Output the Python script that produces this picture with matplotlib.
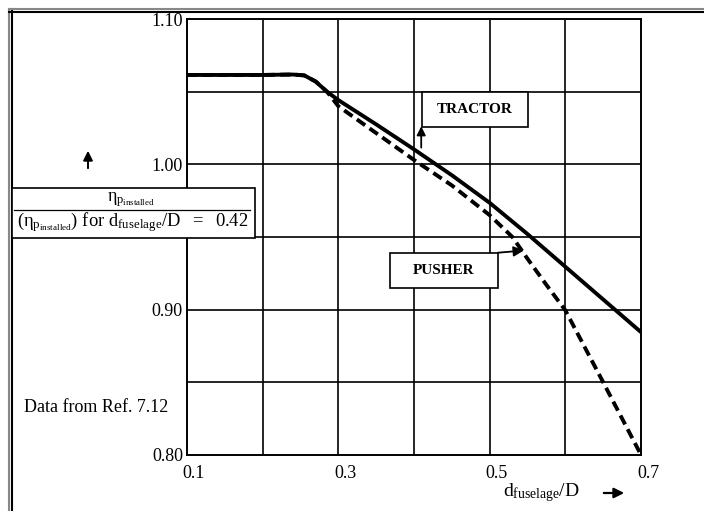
import matplotlib
matplotlib.use("Agg")
import matplotlib.pyplot as plt
from matplotlib.patches import Rectangle, FancyArrowPatch
from matplotlib.lines import Line2D
from matplotlib.transforms import offset_copy

plt.rcParams["font.family"] = ["Liberation Serif", "DejaVu Serif"]
plt.rcParams["mathtext.fontset"] = "custom"
plt.rcParams["mathtext.rm"] = "Liberation Serif"
plt.rcParams["mathtext.it"] = "Liberation Serif"

# data
d_ratio_tractor = [0.10, 0.20, 0.24, 0.255, 0.27, 0.285, 0.30, 0.35, 0.40, 0.45, 0.50, 0.55, 0.60, 0.65, 0.70]
eta_tractor = [1.0615, 1.0615, 1.0618, 1.0612, 1.057, 1.050, 1.0442, 1.0275, 1.0103, 0.9925, 0.9735, 0.952, 0.9295, 0.907, 0.8845]

d_ratio_pusher = [0.10, 0.20, 0.24, 0.255, 0.27, 0.285, 0.30, 0.35, 0.40, 0.45, 0.50, 0.53, 0.55, 0.575, 0.60, 0.65, 0.70]
eta_pusher = [1.0615, 1.0615, 1.0618, 1.0612, 1.057, 1.050, 1.0400, 1.0215, 1.003, 0.9855, 0.965, 0.950, 0.935, 0.917, 0.8995, 0.850, 0.800]

x_ticks = [0.1, 0.3, 0.5, 0.7]
x_tick_labels = ["0.1", "0.3", "0.5", "0.7"]
y_ticks = [0.80, 0.90, 1.00, 1.10]
y_tick_labels = ["0.80", "0.90", "1.00", "1.10"]
x_grid = [0.2, 0.3, 0.4, 0.5, 0.6]
y_grid = [0.85, 0.90, 0.95, 1.00, 1.05]

fig = plt.figure(figsize=(7.04, 5.11), dpi=100)
ax = fig.add_axes([0.2656, 0.1096, 0.645, 0.8532])
ax.set_xlim(0.1, 0.7)
ax.set_ylim(0.80, 1.10)

# grid
for gx in x_grid:
    ax.axvline(gx, color="black", lw=1.2, zorder=1)
for gy in y_grid:
    ax.axhline(gy, color="black", lw=1.2, zorder=1)
for s in ax.spines.values():
    s.set_linewidth(1.4)

# curves
ax.plot(d_ratio_tractor, eta_tractor, color="black", lw=2.8, solid_capstyle="butt",
        solid_joinstyle="round", zorder=3)
ax.plot(d_ratio_pusher, eta_pusher, color="black", lw=2.8, linestyle=(0, (2.6, 1.4)),
        dash_joinstyle="round", zorder=3)

# ticks (labels drawn as text so they can sit a little off the grid lines, as in the scan)
ax.set_xticks(x_ticks)
ax.set_yticks(y_ticks)
ax.set_xticklabels([])
ax.set_yticklabels([])
ax.tick_params(length=0)
xtrans = offset_copy(ax.get_xaxis_transform(), fig=fig, x=7, y=-10, units="dots")
for xv, lab in zip(x_ticks, x_tick_labels):
    ax.text(xv, 0, lab, transform=xtrans, fontsize=13, ha="center", va="top", clip_on=False)
ytrans = offset_copy(ax.get_yaxis_transform(), fig=fig, x=-4, y=-2, units="dots")
for yv, lab in zip(y_ticks, y_tick_labels):
    ax.text(0, yv, lab, transform=ytrans, fontsize=13, ha="right", va="center", clip_on=False)

# labels for curves
ax.add_patch(Rectangle((0.4106, 1.0259), 0.14, 0.0241, facecolor="white",
                       edgecolor="black", lw=1.2, zorder=4))
ax.text(0.4806, 1.0379, "TRACTOR", fontsize=11, fontweight="bold",
        ha="center", va="center", zorder=5)
ax.annotate("", xy=(0.4095, 1.0262), xytext=(0.4095, 1.0115),
            arrowprops=dict(arrowstyle="-|>", color="black", lw=1.3,
                            mutation_scale=13, shrinkA=0, shrinkB=0), zorder=5)

ax.add_patch(Rectangle((0.368, 0.9149), 0.1425, 0.0241, facecolor="white",
                       edgecolor="black", lw=1.2, zorder=4))
ax.text(0.4393, 0.9269, "PUSHER", fontsize=11, fontweight="bold",
        ha="center", va="center", zorder=5)
ax.annotate("", xy=(0.545, 0.9407), xytext=(0.511, 0.9392),
            arrowprops=dict(arrowstyle="-|>", color="black", lw=1.3,
                            mutation_scale=15, shrinkA=0, shrinkB=0), zorder=5)

# y-axis label box
fig.patches.append(Rectangle((12 / 704, 1 - 238 / 511), 243 / 704, 50 / 511,
                             transform=fig.transFigure, facecolor="white",
                             edgecolor="black", lw=1.2, zorder=6))
fig.lines.append(Line2D([14 / 704, 250 / 704], [1 - 210 / 511, 1 - 210 / 511],
                        transform=fig.transFigure, color="black", lw=0.9, zorder=7))
fig.text(131 / 704, 1 - 200 / 511, r"$\eta_{\mathrm{p}_{\mathrm{installed}}}$",
         fontsize=13, ha="center", va="center", zorder=8)
fig.text(133 / 704, 1 - 222 / 511,
         r"$(\eta_{\mathrm{p}_{\mathrm{installed}}})\ \mathrm{for}\ \mathrm{d}_{\mathrm{fuselage}}\mathrm{/D}\ \ =\ \ 0.42$",
         fontsize=13.3, ha="center", va="center", zorder=8)
fig.patches.append(FancyArrowPatch(
    (88 / 704, 1 - 171 / 511), (88 / 704, 1 - 148 / 511),
    transform=fig.transFigure, arrowstyle="-|>", mutation_scale=14,
    color="black", lw=1.4))

fig.text(24 / 704, 1 - 407 / 511, "Data from Ref. 7.12", fontsize=13,
         ha="left", va="center")

# x-axis label
fig.text(541 / 704, 1 - 493 / 511, r"$\mathrm{d}_{\mathrm{fuselage}}\mathrm{/D}$",
         fontsize=14, ha="center", va="center")
fig.patches.append(FancyArrowPatch(
    (601 / 704, 1 - 493 / 511), (627 / 704, 1 - 493 / 511),
    transform=fig.transFigure, arrowstyle="-|>", mutation_scale=15,
    color="black", lw=1.6))

# double frame of the scanned page
for xf, c in [(9 / 704, "#888888"), (12 / 704, "black")]:
    fig.lines.append(Line2D([xf, xf], [0, 1 - 9 / 511], transform=fig.transFigure,
                            color=c, lw=1.5))
for yf, c in [(9 / 511, "#888888"), (12 / 511, "black")]:
    fig.lines.append(Line2D([9 / 704, 1], [1 - yf, 1 - yf], transform=fig.transFigure,
                            color=c, lw=1.5))

fig.savefig("out.png", dpi=100)
